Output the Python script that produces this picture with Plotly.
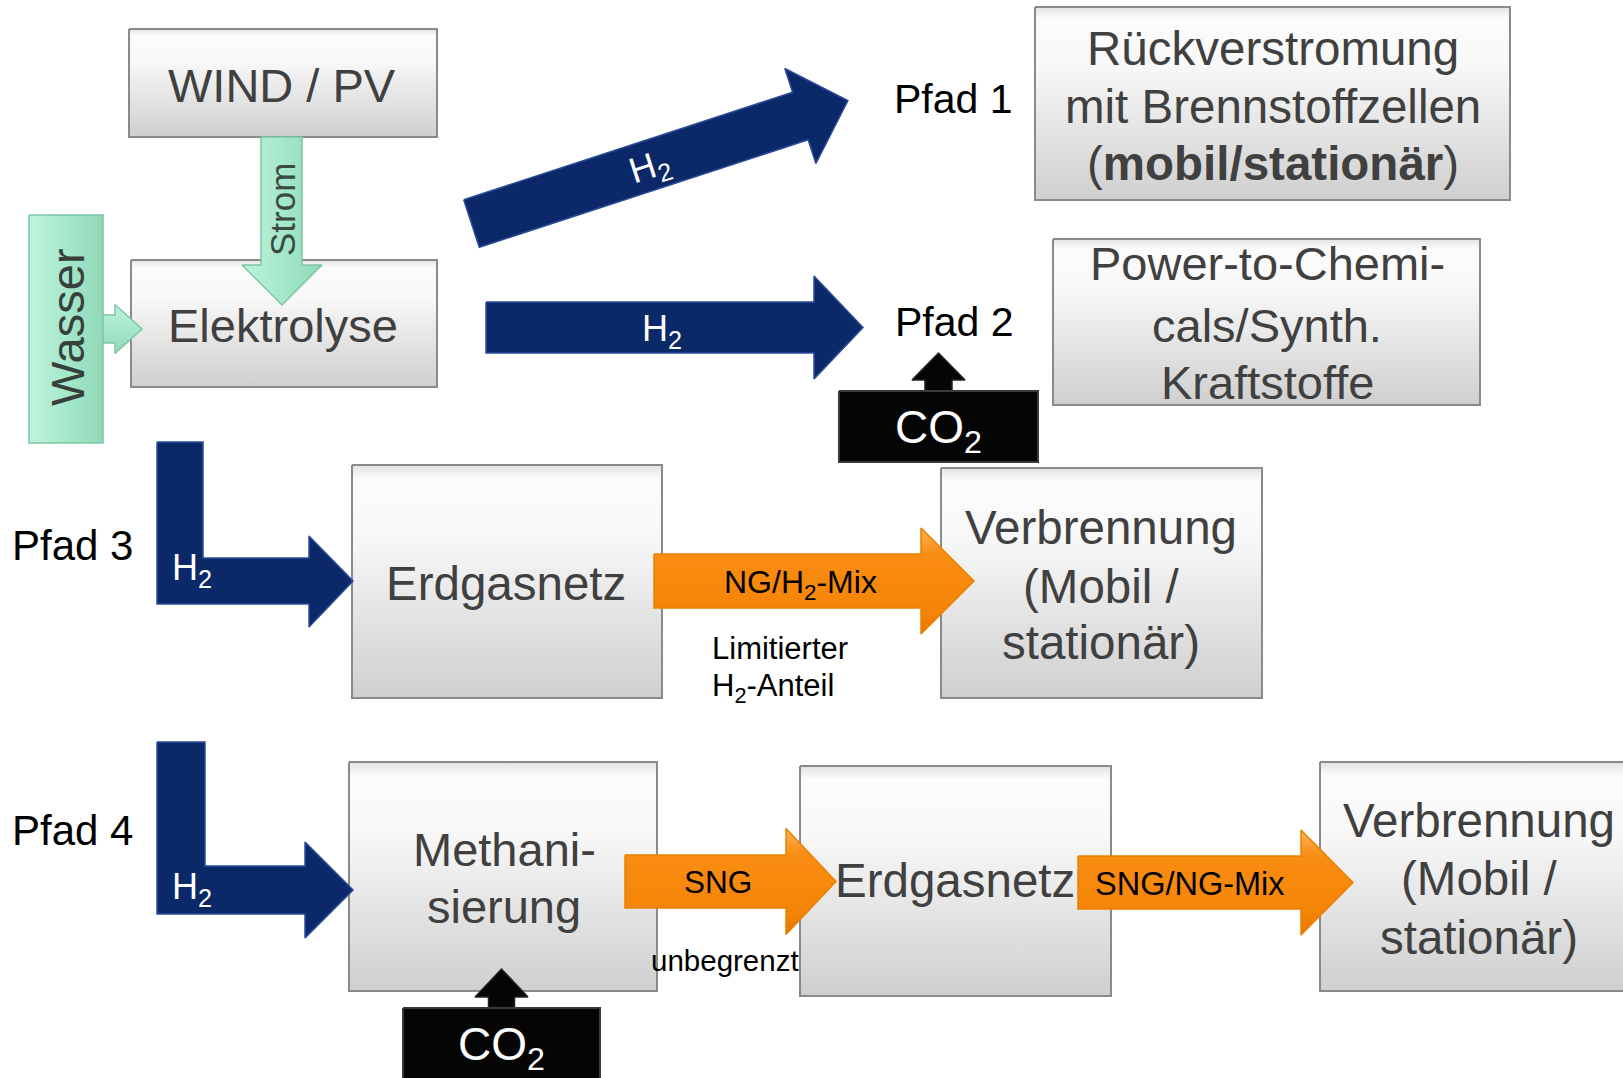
import plotly.graph_objects as go
import math

# ---------------- data (texts) ----------------
source_labels = ["WIND / PV", "Elektrolyse"]
input_labels = ["Wasser", "Strom"]
pfad_labels = ["Pfad 1", "Pfad 2", "Pfad 3", "Pfad 4"]
target1_lines = ["Rückverstromung", "mit Brennstoffzellen", "(<b>mobil/stationär</b>)"]
target2_lines = ["Power-to-Chemi-", "cals/Synth.", "Kraftstoffe"]
grid_label = "Erdgasnetz"
methan_lines = ["Methani-", "sierung"]
burn_lines = ["Verbrennung", "(Mobil /", "stationär)"]
flow_labels = ["H<sub>2</sub>", "NG/H<sub>2</sub>-Mix", "SNG", "SNG/NG-Mix"]
co2_label = "CO<sub>2</sub>"
note3_lines = ["Limitierter", "H<sub>2</sub>-Anteil"]
note4_label = "unbegrenzt"

# ---------------- styles ----------------
W, H = 1623, 1078
FONT = "Liberation Sans, Arial, sans-serif"
GRAY_TXT = "#404040"
NAVY = "#0b2868"
NAVY_EDGE = "#2b4c99"
MINT = "#a5e8cb"
MINT_EDGE = "#7cc6a6"
BOX_EDGE = "#8a8a8a"
BOX_GRAD = [[0, "#e2e2e2"], [0.06, "#fcfcfc"], [0.3, "#f8f8f8"], [1, "#cfcfcf"]]
ORANGE_GRAD = [[0, "#fdb255"], [0.25, "#f98d12"], [0.8, "#f48406"], [1, "#e47700"]]
MINT_GRAD = [[0, "#c0f2dc"], [0.5, "#a5e8cb"], [1, "#90d8b8"]]

fig = go.Figure()


def poly(xs, ys, fill, edge, width=1.5, grad=None, horizontal=False):
    xs = list(xs) + [xs[0]]
    ys = list(ys) + [ys[0]]
    kw = {}
    if grad is not None:
        if horizontal:
            kw["fillgradient"] = dict(type="horizontal", colorscale=grad,
                                      start=min(xs), stop=max(xs))
        else:
            kw["fillgradient"] = dict(type="vertical", colorscale=grad,
                                      start=min(ys), stop=max(ys))
    fig.add_trace(go.Scatter(x=xs, y=ys, mode="lines", fill="toself",
                             fillcolor=fill, line=dict(color=edge, width=width),
                             hoverinfo="skip", showlegend=False, **kw))


def rect(x0, y0, x1, y1, fill, edge, width=2, grad=None, horizontal=False):
    poly([x0, x1, x1, x0], [y0, y0, y1, y1], fill, edge, width, grad, horizontal)


def harrow(x0, x_head, x_tip, y_c, shaft_h, head_h, fill, edge, grad=None, horizontal=False):
    s, h = shaft_h / 2, head_h / 2
    poly([x0, x_head, x_head, x_tip, x_head, x_head, x0],
         [y_c - s, y_c - s, y_c - h, y_c, y_c + h, y_c + s, y_c + s],
         fill, edge, 1.5, grad, horizontal)


def varrow_up(x_c, y0, y_head, y_tip, shaft_w, head_w, fill, edge):
    s, h = shaft_w / 2, head_w / 2
    poly([x_c - s, x_c - s, x_c - h, x_c, x_c + h, x_c + s, x_c + s],
         [y0, y_head, y_head, y_tip, y_head, y_head, y0], fill, edge, 1.5)


def txt(x, y, s, size, color=GRAY_TXT, angle=0, xanchor="center"):
    fig.add_annotation(x=x, y=y, xref="x", yref="y", text=s, showarrow=False,
                       xanchor=xanchor, yanchor="middle", textangle=angle,
                       font=dict(family=FONT, size=size, color=color))


# ---------------- gray boxes ----------------
boxes = [
    (129, 29, 437, 137),     # WIND / PV
    (131, 260, 437, 387),    # Elektrolyse
    (1035, 7, 1510, 200),    # Rückverstromung
    (1053, 239, 1480, 405),  # Power-to-Chemicals
    (352, 465, 662, 698),    # Erdgasnetz (Pfad 3)
    (941, 468, 1262, 698),   # Verbrennung (Pfad 3)
    (349, 762, 657, 991),    # Methanisierung
    (800, 766, 1111, 996),   # Erdgasnetz (Pfad 4)
    (1320, 762, 1660, 991),  # Verbrennung (Pfad 4)
]
for b in boxes:
    rect(*b, fill="#eeeeee", edge=BOX_EDGE, width=2, grad=BOX_GRAD)

# ---------------- mint elements ----------------
rect(29, 215, 103, 443, MINT, MINT_EDGE, 1.5, MINT_GRAD, horizontal=True)
# Strom arrow (down)
poly([261, 302, 302, 322, 282, 242, 261], [137, 137, 265, 265, 305, 265, 265],
     MINT, MINT_EDGE, 1.5, MINT_GRAD, horizontal=True)
# Wasser arrow (right)
harrow(103, 115, 142, 329, 28, 49, MINT, MINT_EDGE, MINT_GRAD)

# ---------------- navy arrows ----------------
# Pfad 1 diagonal arrow
tail = (471.5, 223.5)
ang = math.radians(18.1)
ux, uy = math.cos(ang), -math.sin(ang)
px, py = -uy, ux
L, HL, SW, HW = 396, 50, 50, 100
pts_local = [(0, -SW / 2), (L - HL, -SW / 2), (L - HL, -HW / 2), (L, 0),
             (L - HL, HW / 2), (L - HL, SW / 2), (0, SW / 2)]
dx = [tail[0] + a * ux + b * px for a, b in pts_local]
dy = [tail[1] + a * uy + b * py for a, b in pts_local]
poly(dx, dy, NAVY, NAVY_EDGE, 1.5)
# Pfad 2 arrow
harrow(486, 814, 863, 327.5, 51, 103, NAVY, NAVY_EDGE)
# Pfad 3 L-arrow
poly([157, 203, 203, 309, 309, 353, 309, 309, 157],
     [442, 442, 558, 558, 536, 581, 627, 604, 604], NAVY, NAVY_EDGE, 1.5)
# Pfad 4 L-arrow
poly([157, 205, 205, 305, 305, 353, 305, 305, 157],
     [742, 742, 866, 866, 842, 890, 938, 914, 914], NAVY, NAVY_EDGE, 1.5)

# ---------------- orange arrows ----------------
harrow(654, 921, 974, 581, 54, 106, "#f88a0c", "#e98000", ORANGE_GRAD)
harrow(625, 786, 836, 881.5, 53, 106, "#f88a0c", "#e98000", ORANGE_GRAD)
harrow(1078, 1301, 1353, 882.5, 53, 105, "#f88a0c", "#e98000", ORANGE_GRAD)

# ---------------- CO2 blocks ----------------
varrow_up(938.5, 395, 380, 353, 27, 53, "#050505", "#222222")
rect(839, 391, 1038, 462, "#050505", "#3a3a3a", 2)
varrow_up(501.5, 1012, 997, 969, 26, 53, "#050505", "#222222")
rect(403, 1008, 600, 1090, "#050505", "#3a3a3a", 2)

# ---------------- texts ----------------
BIG = 47
txt(282, 85, source_labels[0], BIG)
txt(283, 325, source_labels[1], BIG)
txt(67, 327, input_labels[0], BIG, color="#37403c", angle=-90)
txt(282, 210, input_labels[1], 35, color="#3a4a42", angle=-90)

txt(953, 99, pfad_labels[0], 41, "#000000")
txt(954, 322, pfad_labels[1], 41, "#000000")
txt(72, 545, pfad_labels[2], 42, "#000000")
txt(72, 830, pfad_labels[3], 42, "#000000")

for y, s in zip([48, 106, 163], target1_lines):
    txt(1273, y, s, 47.5)
for y, s in zip([263, 325, 382], target2_lines):
    txt(1267, y, s, BIG)

txt(506, 583, grid_label, 47.5)
txt(955, 880, grid_label, 47.5)
for y, s in zip([849, 906], methan_lines):
    txt(504, y, s, BIG)
for y, s in zip([527, 586, 642], burn_lines):
    txt(1101, y, s, 47.5)
for y, s in zip([820, 878, 937], burn_lines):
    txt(1479, y, s, 47.5)

# H2 labels
txt(650, 168, flow_labels[0], 36, "#ffffff", angle=-18)
txt(662, 331, flow_labels[0], 36, "#ffffff")
txt(170, 570, flow_labels[0], 36, "#ffffff", xanchor="left")
txt(170, 889, flow_labels[0], 36, "#ffffff", xanchor="left")

txt(800, 584, flow_labels[1], 32, "#000000")
txt(718, 882, flow_labels[2], 31.5, "#000000")
txt(1190, 884, flow_labels[3], 32.5, "#000000")

txt(710, 648, note3_lines[0], 31, "#000000", xanchor="left")
txt(710, 688, note3_lines[1], 31, "#000000", xanchor="left")
txt(649, 960, note4_label, 29.5, "#000000", xanchor="left")

txt(938, 430, co2_label, 46, "#ffffff")
txt(501, 1047, co2_label, 46, "#ffffff")

fig.update_layout(
    width=W, height=H, autosize=False,
    margin=dict(l=0, r=0, t=0, b=0, pad=0),
    paper_bgcolor="white", plot_bgcolor="white",
    xaxis=dict(range=[0, W], visible=False, fixedrange=True),
    yaxis=dict(range=[H, 0], visible=False, fixedrange=True),
    showlegend=False,
)

fig.write_html("out.html", config={"displayModeBar": False},
               post_script="document.body.style.margin='0';document.body.style.overflow='hidden';")
